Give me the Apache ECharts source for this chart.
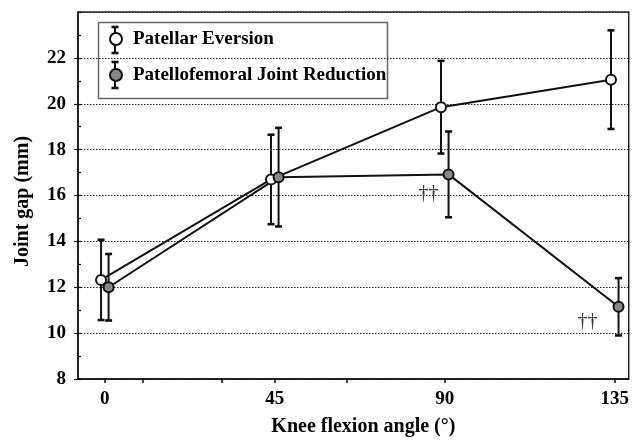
<!DOCTYPE html>
<html>
<head>
<meta charset="utf-8">
<script src="https://cdn.jsdelivr.net/npm/echarts@6/dist/echarts.min.js"></script>
<style>html,body{margin:0;padding:0;background:#fff;}#chart{width:632px;height:442px;}</style>
</head>
<body>
<div id="chart"></div>
<script>
// ---- data ----
var angles = [0, 45, 90, 135];                      // knee flexion angle (deg)
var eversionMean = [12.32, 16.70, 19.85, 21.05];     // Patellar Eversion
var eversionSD   = [1.75, 1.95, 2.02, 2.15];
var reductionMean = [12.00, 16.80, 16.92, 11.15];    // Patellofemoral Joint Reduction
var reductionSD   = [1.45, 2.15, 1.87, 1.25];
var reductionMarks = ['', '', '\u2020\u2020', '\u2020\u2020'];
var xTickValues = [0, 10, 31, 45, 64, 90, 135];
var xLabelValues = [0, 45, 90, 135];
var seriesNames = ['Patellar Eversion', 'Patellofemoral Joint Reduction'];

var FONT = 'Liberation Serif';
var dodge = 1.0;
var markOffsets = [null, null, [-20, 19], [-31, 15]];

function pts(means, off) {
  return angles.map(function (a, i) { return [a + off, means[i]]; });
}
function bars(means, sds, off) {
  return angles.map(function (a, i) { return [a + off, means[i] - sds[i], means[i] + sds[i]]; });
}
function renderErr(params, api) {
  var x = api.value(0), lo = api.value(1), hi = api.value(2);
  var t = api.coord([x, hi]), b = api.coord([x, lo]);
  var cw = 3.5;
  var st = { stroke: '#111', lineWidth: 2 };
  var cs = { stroke: '#111', lineWidth: 2.6 };
  return { type: 'group', children: [
    { type: 'line', shape: { x1: t[0], y1: t[1], x2: b[0], y2: b[1] }, style: st },
    { type: 'line', shape: { x1: t[0] - cw, y1: t[1], x2: t[0] + cw, y2: t[1] }, style: cs },
    { type: 'line', shape: { x1: b[0] - cw, y1: b[1], x2: b[0] + cw, y2: b[1] }, style: cs }
  ]};
}

var redData = pts(reductionMean, dodge).map(function (p, i) {
  var item = { value: p };
  if (reductionMarks[i]) {
    item.label = { show: true, formatter: reductionMarks[i], position: 'inside', offset: markOffsets[i],
      fontFamily: FONT, fontSize: 20, color: '#333' };
  }
  return item;
});

function legendBar(cx, y1, y2) {
  return [
    { type: 'line', shape: { x1: cx, y1: y1, x2: cx, y2: y2 }, style: { stroke: '#111', lineWidth: 2 }, z: 1 },
    { type: 'line', shape: { x1: cx - 3.5, y1: y1, x2: cx + 3.5, y2: y1 }, style: { stroke: '#111', lineWidth: 2.6 }, z: 1 },
    { type: 'line', shape: { x1: cx - 3.5, y1: y2, x2: cx + 3.5, y2: y2 }, style: { stroke: '#111', lineWidth: 2.6 }, z: 1 }
  ];
}

var chart = echarts.init(document.getElementById('chart'), null, { renderer: 'canvas' });
chart.setOption({
  backgroundColor: '#fff',
  animation: false,
  textStyle: { fontFamily: FONT },
  grid: { left: 78, right: 2, top: 12, bottom: 59, show: true, borderColor: '#222', borderWidth: 1.5, backgroundColor: 'transparent' },
  xAxis: {
    type: 'value', min: -7.1, max: 138.7,
    name: 'Knee flexion angle (\u00b0)', nameLocation: 'middle', nameGap: 38,
    nameTextStyle: { fontFamily: FONT, fontSize: 20, fontWeight: 'bold', color: '#000', padding: [0, 0, 0, 20] },
    axisLine: { show: true, onZero: false, lineStyle: { color: '#111', width: 1.5 } },
    axisTick: { show: true, length: 4, lineStyle: { color: '#111', width: 1.5 }, customValues: xTickValues },
    axisLabel: { customValues: xLabelValues, margin: 11, fontFamily: FONT, fontSize: 19, fontWeight: 'bold', color: '#000' },
    splitLine: { show: false }
  },
  yAxis: [{
    type: 'value', min: 8, max: 24, interval: 2,
    name: 'Joint gap (mm)', nameLocation: 'middle', nameGap: 45,
    nameTextStyle: { fontFamily: FONT, fontSize: 20, fontWeight: 'bold', color: '#000', padding: [0, 12, 0, 0] },
    axisLine: { show: true, onZero: false, lineStyle: { color: '#111', width: 1.5 } },
    axisTick: { show: true, length: 4, lineStyle: { color: '#111', width: 1.2 } },
    axisLabel: { margin: 12, showMaxLabel: false, fontFamily: FONT, fontSize: 19, fontWeight: 'bold', color: '#000' },
    splitLine: { show: true, lineStyle: { color: '#222', width: 1.2, type: [1.5, 1.5] } }
  }, {
    type: 'value', min: 8, max: 24, interval: 1, position: 'left',
    axisLine: { show: false, onZero: false },
    axisTick: { show: true, inside: true, length: 3, lineStyle: { color: '#111', width: 1.2 } },
    axisLabel: { show: false }, splitLine: { show: false }
  }],
  legend: {
    data: seriesNames,
    orient: 'vertical', left: 109, top: 29, padding: 0,
    icon: 'circle', itemWidth: 12, itemHeight: 12, itemGap: 16,
    selectedMode: false,
    textStyle: { fontFamily: FONT, fontSize: 19, fontWeight: 'bold', color: '#000', lineHeight: 20, padding: [0, 0, 0, 6] }
  },
  graphic: [
    { type: 'rect', shape: { x: 98.5, y: 22.5, width: 289, height: 76 }, style: { fill: '#fff', stroke: '#666', lineWidth: 1.5 }, z: 0 }
  ].concat(legendBar(115, 27, 53)).concat(legendBar(115, 62, 88)),
  series: [
    { name: 'err1', type: 'custom', renderItem: renderErr, data: bars(eversionMean, eversionSD, -dodge), z: 1, silent: true },
    { name: 'err2', type: 'custom', renderItem: renderErr, data: bars(reductionMean, reductionSD, dodge), z: 1, silent: true },
    { name: seriesNames[0], type: 'line', data: pts(eversionMean, -dodge), symbol: 'circle', symbolSize: 10,
      lineStyle: { color: '#111', width: 2 }, itemStyle: { color: '#fff', borderColor: '#111', borderWidth: 2 }, z: 3 },
    { name: seriesNames[1], type: 'line', data: redData, symbol: 'circle', symbolSize: 10,
      lineStyle: { color: '#111', width: 2 }, itemStyle: { color: '#888', borderColor: '#111', borderWidth: 2 }, z: 3 }
  ]
});
</script>
</body>
</html>
